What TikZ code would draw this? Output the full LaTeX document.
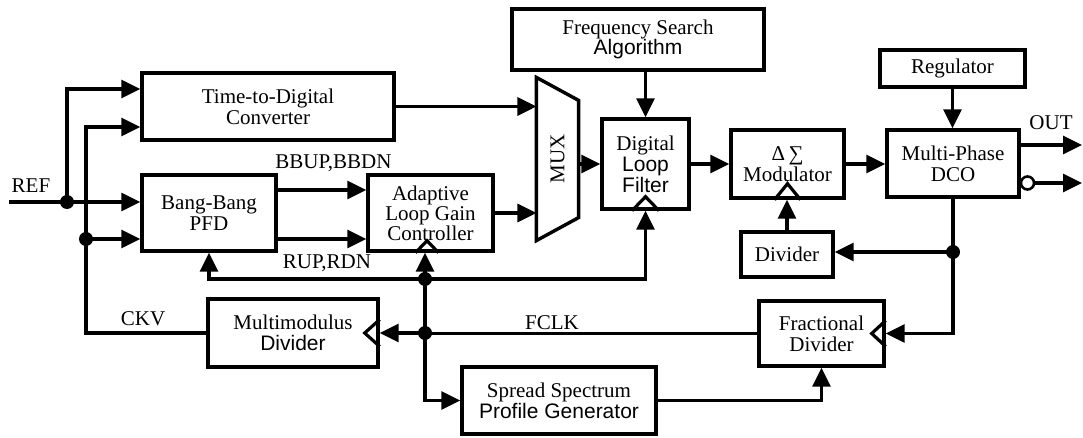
\documentclass[tikz,border=0pt]{standalone}
\usepackage{fontspec}
\setmainfont{Liberation Serif}
\newfontfamily\arialfont{Liberation Sans}
\usetikzlibrary{arrows.meta}

\begin{document}
\begin{tikzpicture}[x=1pt,y=-1pt,
  line width=3.2pt,
  box/.style={draw, line width=3.4pt, rectangle, inner sep=0pt, align=center,
              font=\fontsize{21}{21}\selectfont},
  lbl/.style={inner sep=0pt, font=\fontsize{21}{21}\selectfont},
  arr/.style={-{Triangle[length=19pt,width=18pt]}},
  dot/.style={circle, fill, inner sep=0pt, minimum size=14pt},
  clk/.style={line width=3.2pt, line join=miter},
]
\useasboundingbox (0,0) rectangle (1083,438);

% ---- blocks ----
\node[box, minimum width=252pt, minimum height=67pt] (tdc) at (268,106.5) {Time-to-Digital\\Converter};
\node[box, minimum width=134pt, minimum height=76pt] (pfd) at (209,213) {Bang-Bang\\PFD};
\node[box, minimum width=125pt, minimum height=76pt, font=\fontsize{21}{20}\selectfont] (algc) at (430.5,213) {Adaptive\\Loop Gain\\Controller};
\node[minimum width=39pt, minimum height=160pt, inner sep=0pt, font=\fontsize{21}{21}\selectfont] (mux) at (557.5,159) {\rotatebox{90}{MUX}};
\node[box, minimum width=87pt, minimum height=90pt] (dlf) at (645.5,164) {Digital\\{\arialfont Loop}\\{\arialfont Filter}};
\node[box, minimum width=252pt, minimum height=61pt, font=\fontsize{21}{20}\selectfont] (fsa) at (638,39.5) {Frequency Search\\{\arialfont Algorithm}};
\node[box, minimum width=113pt, minimum height=68pt] (dsm) at (787.5,164) {Δ\,∑\\Modulator};
\node[box, minimum width=132pt, minimum height=67pt] (dco) at (953,163.5) {Multi-Phase\\DCO};
\node[box, minimum width=145pt, minimum height=37pt] (reg) at (952.5,68.5) {Regulator};
\node[box, minimum width=92pt, minimum height=45pt] (div) at (787,254.5) {Divider};
\node[box, minimum width=125pt, minimum height=65pt] (frac) at (821.5,333.5) {Fractional\\Divider};
\node[box, minimum width=170pt, minimum height=68pt] (mmd) at (293,333) {Multimodulus\\{\arialfont Divider}};
\node[box, minimum width=194pt, minimum height=67pt] (sspg) at (559,400.5) {Spread Spectrum\\{\arialfont Profile Generator}};

% multiplexer outline
\draw[line width=3.4pt, line join=miter] (mux.north west) -- ([yshift=-23pt]mux.north east)
  -- ([yshift=23pt]mux.south east) -- (mux.south west) -- cycle;

% clock inputs
\draw[clk] ([xshift=-15pt]algc.south) -- ([xshift=-3.5pt,yshift=12pt]algc.south) -- ([xshift=8pt]algc.south);
\draw[clk] ([xshift=-13.5pt]dlf.south) -- ([yshift=14pt]dlf.south) -- ([xshift=13.5pt]dlf.south);
\draw[clk] ([xshift=-13pt]dsm.south) -- ([yshift=16pt]dsm.south) -- ([xshift=13pt]dsm.south);
\draw[clk] ([yshift=13.5pt]mmd.east) -- ([xshift=-15pt]mmd.east) -- ([yshift=-13.5pt]mmd.east);
\draw[clk] ([yshift=13pt]frac.east) -- ([xshift=-14pt]frac.east) -- ([yshift=-13pt]frac.east);

% ---- junctions and free ends ----
\coordinate (ref) at (9,202);
\coordinate (j1) at (67,202);
\coordinate (j2) at (86,239);
\coordinate (j3) at (425,279);
\coordinate (j4) at (425,333);
\coordinate (j5) at (953,252);
\coordinate (out1) at (1082,145);
\coordinate (out2) at (1082,183);

% ---- connectors ----
\draw[arr] (ref) -- (ref -| pfd.west);
\draw[arr] (j1) |- ([yshift=17.5pt]tdc.west);
\draw (mmd.west) -| (j2);
\draw[arr] (j2) |- ([yshift=-20.5pt]tdc.west);
\draw[arr] (j2) -- (j2 -| pfd.west);

\draw[arr] ([yshift=23pt]pfd.east) -- ([yshift=23pt]algc.west);
\draw[arr] ([yshift=-26pt]pfd.east) -- ([yshift=-26pt]algc.west);

\draw[arr] (tdc.east) -- (tdc.east -| mux.west);
\draw[arr] (algc.east) -- (algc.east -| mux.west);
\draw[arr] (mux.east |- dlf.west) -- (dlf.west);
\draw[arr] (dlf.north |- fsa.south) -- (dlf.north);
\draw[arr] (dlf.east) -- (dlf.east -| dsm.west);
\draw[arr] (dsm.east) -- (dsm.east -| dco.west);
\draw[arr] (reg.south) -- (reg.south |- dco.north);

\draw[arr] (out1 -| dco.east) -- (out1);
\node[circle, draw, line width=2.6pt, minimum size=13pt, inner sep=0pt, fill=white] (bub) at (1027.5,183) {};
\draw[arr] (bub.east) -- (out2);

\draw (dco.south) -- (j5);
\draw[arr] (j5) -- (j5 -| div.east);
\draw[arr] (j5) |- (frac.east);
\draw[arr] (div.north) -- (div.north |- dsm.south);

\draw (frac.west) -- (frac.west -| j4);
\draw[arr] (j4) -- (j4 -| mmd.east);
\draw[arr] (j4) |- (sspg.west);
\draw[arr] (sspg.east) -| (frac.south);
\draw[arr] (j4) -- (j4 |- algc.south);
\draw[arr] (j3) -| (pfd.south);
\draw[arr] (j3) -| (dlf.south);

% junction dots
\node[dot] (d1) at (j1) {};
\node[dot] (d2) at (j2) {};
\node[dot] (d3) at (j3) {};
\node[dot] (d4) at (j4) {};
\node[dot] (d5) at (j5) {};

% ---- signal labels ----
\node[lbl] (lref) at (31,186) {REF};
\node[lbl] (lckv) at (143,319) {CKV};
\node[lbl] (lbb) at (333.5,163.5) {BBUP,BBDN};
\node[lbl] (lrup) at (327,263.5) {RUP,RDN};
\node[lbl] (lfclk) at (552,322.5) {FCLK};
\node[lbl] (lout) at (1051,123) {OUT};
\end{tikzpicture}
\end{document}
